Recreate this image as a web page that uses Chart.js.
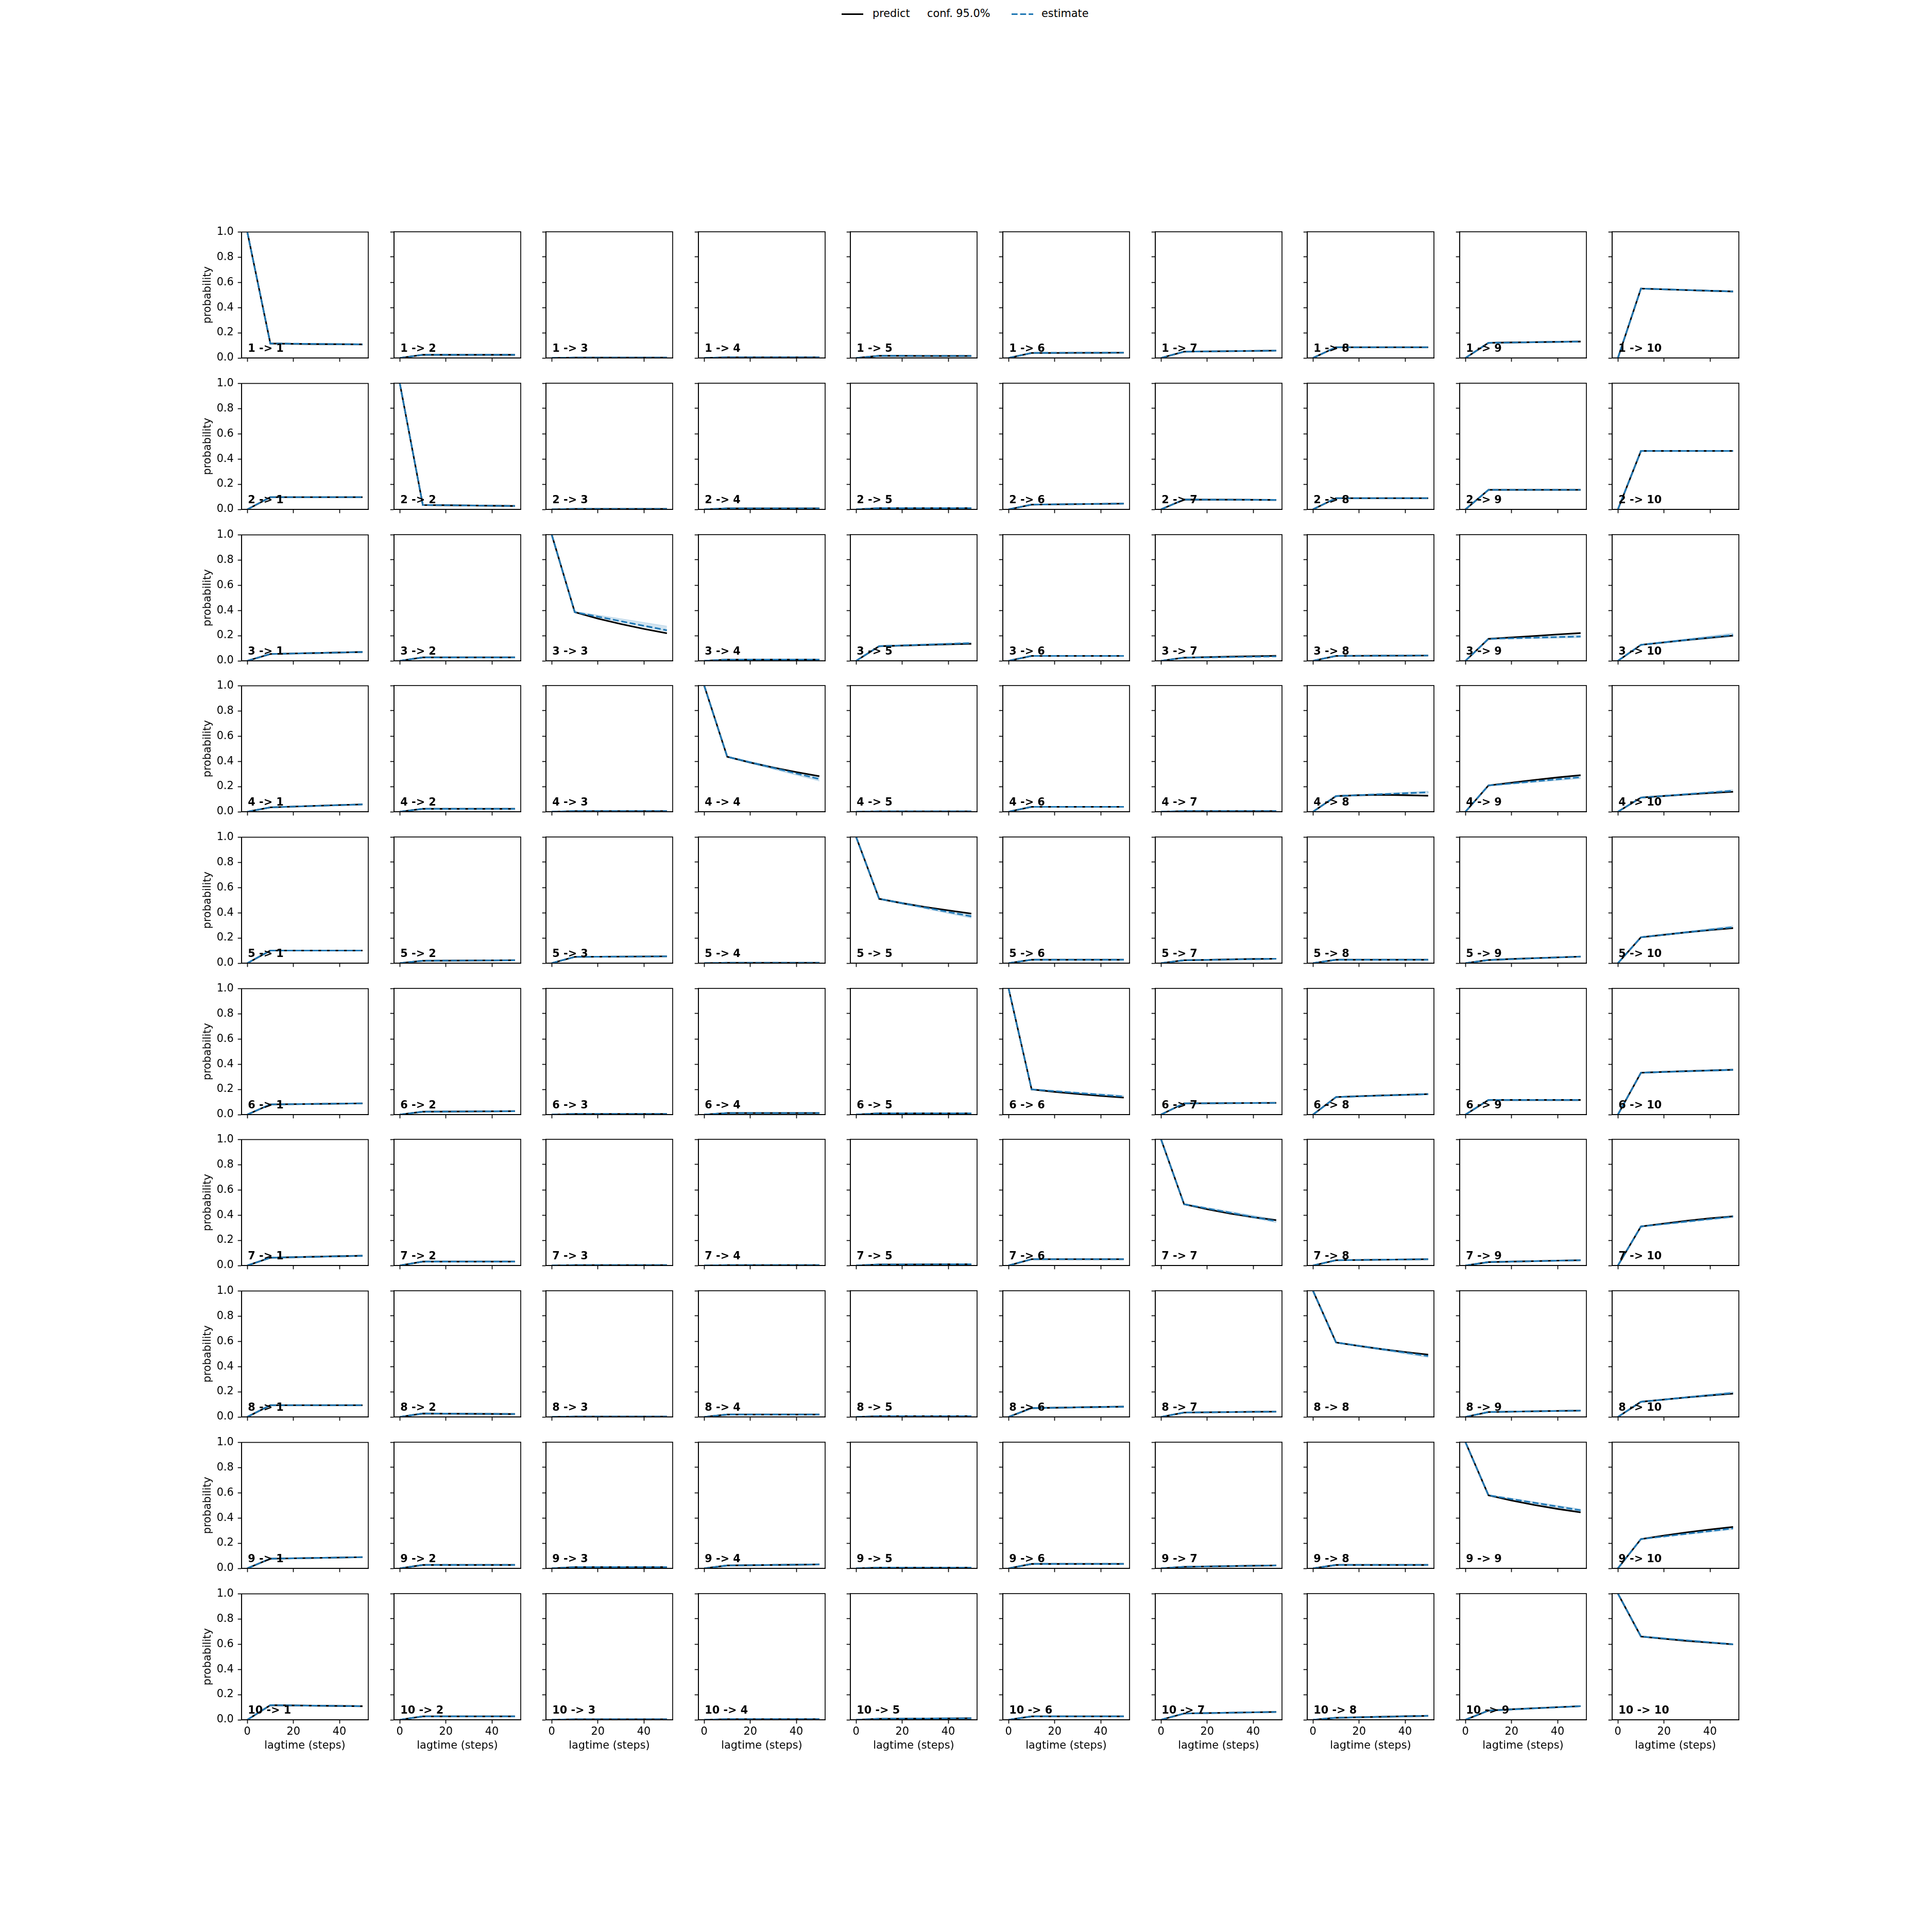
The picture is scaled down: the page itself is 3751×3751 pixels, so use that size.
<!DOCTYPE html>
<html>
<head>
<meta charset="utf-8">
<script src="https://cdn.jsdelivr.net/npm/chart.js@4.4.1/dist/chart.umd.min.js"></script>
<style>
  html, body { margin: 0; padding: 0; background: #fff; }
  #fig { position: relative; width: 3751px; height: 3751px; overflow: hidden; font-family: 'DejaVu Sans'; }
  #fig canvas { position: absolute; }
  .leg-text { position: absolute; font-size: 20.8px; line-height: 1; color: #000; white-space: nowrap; }
</style>
</head>
<body>
<div id="fig">
  <!-- legend -->
  <div style="position:absolute; left:1634px; top:26px; width:42px; height:3px; background:#000"></div>
  <span class="leg-text" style="left:1694px; top:16px">predict</span>
  <span class="leg-text" style="left:1800px; top:16px">conf. 95.0%</span>
  <svg style="position:absolute; left:1964px; top:22px" width="42" height="10">
    <line x1="0" y1="5.5" x2="42" y2="5.5" stroke="#1f77b4" stroke-width="3.1" stroke-dasharray="11.6 5"/>
  </svg>
  <span class="leg-text" style="left:2022px; top:16px">estimate</span>
</div>
<script>
// lag times and ticks
const lagtimes = [0, 10, 20, 30, 40, 50];
const estLagtimes = [0, 10, 50];
const xTicks = [0, 20, 40];
const yTicks = [0, 0.2, 0.4, 0.6, 0.8, 1.0];
const nStates = 10;

// predict[i][j] : i -> j, at lagtimes
const predict = [
  [[1,.115,.112,.110,.109,.108],[0,.025,.025,.025,.025,.025],[0,.003,.003,.003,.003,.003],[0,.005,.005,.005,.005,.005],[0,.017,.017,.016,.016,.016],[0,.040,.040,.041,.041,.042],[0,.050,.052,.054,.056,.058],[0,.085,.085,.085,.085,.085],[0,.120,.123,.125,.128,.130],[0,.550,.544,.538,.532,.527]],
  [[0,.097,.097,.097,.097,.097],[1,.035,.033,.031,.029,.027],[0,.004,.004,.004,.004,.004],[0,.008,.008,.008,.008,.008],[0,.010,.010,.010,.010,.010],[0,.038,.040,.042,.044,.046],[0,.078,.077,.077,.076,.075],[0,.089,.089,.089,.089,.089],[0,.155,.155,.155,.155,.155],[0,.463,.463,.463,.463,.463]],
  [[0,.054,.058,.062,.066,.070],[0,.027,.027,.027,.027,.027],[1,.386,.335,.292,.253,.218],[0,.010,.010,.010,.010,.010],[0,.116,.121,.126,.131,.135],[0,.039,.039,.039,.039,.039],[0,.025,.029,.033,.037,.040],[0,.039,.040,.041,.041,.042],[0,.174,.186,.197,.209,.220],[0,.127,.146,.165,.183,.200]],
  [[0,.035,.041,.047,.053,.058],[0,.023,.023,.023,.023,.023],[0,.005,.005,.005,.005,.005],[1,.436,.390,.350,.314,.282],[0,.003,.003,.003,.003,.003],[0,.039,.039,.039,.039,.039],[0,.005,.005,.005,.005,.005],[0,.124,.131,.134,.131,.127],[0,.208,.230,.252,.272,.290],[0,.112,.125,.137,.148,.158]],
  [[0,.100,.100,.100,.100,.100],[0,.019,.020,.021,.022,.023],[0,.050,.051,.052,.053,.054],[0,.003,.003,.003,.003,.003],[1,.510,.475,.445,.418,.393],[0,.027,.027,.027,.027,.027],[0,.023,.026,.030,.033,.035],[0,.027,.027,.027,.027,.027],[0,.025,.033,.040,.046,.052],[0,.205,.225,.245,.262,.278]],
  [[0,.081,.083,.085,.087,.089],[0,.023,.024,.025,.026,.027],[0,.005,.005,.005,.005,.005],[0,.012,.012,.012,.012,.012],[0,.010,.010,.010,.010,.010],[1,.200,.180,.163,.148,.135],[0,.089,.090,.091,.092,.093],[0,.139,.146,.152,.157,.162],[0,.116,.116,.116,.116,.116],[0,.332,.339,.345,.350,.355]],
  [[0,.062,.066,.070,.074,.077],[0,.031,.031,.031,.031,.031],[0,.003,.003,.003,.003,.003],[0,.003,.003,.003,.003,.003],[0,.008,.008,.009,.010,.010],[0,.050,.050,.050,.050,.050],[1,.486,.446,.411,.383,.359],[0,.042,.044,.046,.048,.050],[0,.027,.031,.035,.039,.042],[0,.309,.333,.355,.374,.390]],
  [[0,.093,.093,.093,.093,.093],[0,.027,.026,.025,.024,.023],[0,.003,.003,.003,.003,.003],[0,.019,.019,.019,.019,.019],[0,.006,.006,.006,.006,.006],[0,.070,.073,.076,.079,.081],[0,.035,.037,.039,.041,.042],[1,.590,.562,.537,.514,.494],[0,.039,.042,.045,.048,.050],[0,.120,.138,.155,.171,.185]],
  [[0,.077,.080,.083,.086,.089],[0,.027,.027,.027,.027,.027],[0,.010,.010,.010,.010,.010],[0,.023,.025,.027,.029,.031],[0,.006,.006,.006,.006,.006],[0,.035,.035,.035,.035,.035],[0,.012,.015,.018,.021,.023],[0,.027,.027,.027,.027,.027],[1,.579,.538,.502,.471,.444],[0,.232,.260,.286,.308,.328]],
  [[0,.116,.114,.112,.110,.108],[0,.027,.027,.027,.027,.027],[0,.004,.004,.004,.004,.004],[0,.005,.005,.005,.005,.005],[0,.008,.009,.010,.011,.012],[0,.027,.027,.027,.027,.027],[0,.050,.053,.056,.059,.062],[0,.016,.020,.024,.028,.031],[0,.073,.083,.092,.100,.108],[1,.660,.642,.625,.611,.598]]
];

// estimate[i][j] at estLagtimes
const estimate = [
  [[1,.115,.108],[0,.025,.025],[0,.003,.003],[0,.005,.005],[0,.017,.016],[0,.040,.042],[0,.050,.058],[0,.085,.085],[0,.120,.130],[0,.550,.527]],
  [[0,.097,.097],[1,.035,.027],[0,.004,.004],[0,.008,.008],[0,.010,.010],[0,.038,.046],[0,.078,.075],[0,.089,.089],[0,.155,.155],[0,.463,.463]],
  [[0,.054,.070],[0,.027,.027],[1,.386,.242],[0,.010,.010],[0,.116,.140],[0,.039,.039],[0,.025,.035],[0,.039,.042],[0,.174,.193],[0,.127,.205]],
  [[0,.035,.058],[0,.023,.023],[0,.005,.005],[1,.436,.259],[0,.003,.003],[0,.039,.039],[0,.005,.005],[0,.124,.154],[0,.208,.274],[0,.112,.166]],
  [[0,.100,.100],[0,.019,.023],[0,.050,.054],[0,.003,.003],[1,.510,.371],[0,.027,.027],[0,.023,.035],[0,.027,.027],[0,.025,.052],[0,.205,.285]],
  [[0,.081,.089],[0,.023,.027],[0,.005,.005],[0,.012,.012],[0,.010,.010],[1,.200,.143],[0,.089,.093],[0,.139,.162],[0,.116,.116],[0,.332,.355]],
  [[0,.062,.077],[0,.031,.031],[0,.003,.003],[0,.003,.003],[0,.008,.010],[0,.050,.050],[1,.486,.351],[0,.042,.050],[0,.027,.042],[0,.309,.388]],
  [[0,.093,.093],[0,.027,.023],[0,.003,.003],[0,.019,.019],[0,.006,.006],[0,.070,.081],[0,.035,.042],[1,.590,.483],[0,.039,.050],[0,.120,.190]],
  [[0,.077,.089],[0,.027,.027],[0,.010,.010],[0,.023,.031],[0,.006,.006],[0,.035,.035],[0,.012,.023],[0,.027,.027],[1,.579,.460],[0,.232,.317]],
  [[0,.116,.108],[0,.027,.027],[0,.004,.004],[0,.005,.005],[0,.008,.012],[0,.027,.027],[0,.050,.062],[0,.016,.031],[0,.073,.108],[1,.660,.598]]
];

// 95% confidence band of the estimate, at estLagtimes
const confLower = [
  [[1,.112,.104],[0,.023,.023],[0,.002,.002],[0,.004,.004],[0,.015,.014],[0,.038,.039],[0,.048,.055],[0,.082,.082],[0,.117,.126],[0,.546,.522]],
  [[0,.094,.093],[1,.033,.024],[0,.003,.003],[0,.007,.007],[0,.009,.009],[0,.036,.043],[0,.075,.072],[0,.086,.086],[0,.151,.151],[0,.458,.457]],
  [[0,.052,.066],[0,.025,.025],[1,.382,.232],[0,.009,.009],[0,.113,.132],[0,.037,.037],[0,.023,.032],[0,.037,.039],[0,.170,.183],[0,.124,.192]],
  [[0,.033,.054],[0,.021,.021],[0,.004,.004],[1,.430,.243],[0,.002,.002],[0,.037,.037],[0,.004,.004],[0,.120,.146],[0,.204,.262],[0,.109,.158]],
  [[0,.097,.096],[0,.017,.020],[0,.048,.051],[0,.002,.002],[1,.505,.357],[0,.025,.025],[0,.021,.032],[0,.025,.025],[0,.023,.048],[0,.201,.275]],
  [[0,.078,.085],[0,.021,.024],[0,.004,.004],[0,.011,.011],[0,.009,.009],[1,.196,.135],[0,.086,.089],[0,.135,.156],[0,.112,.111],[0,.327,.348]],
  [[0,.060,.073],[0,.029,.029],[0,.002,.002],[0,.002,.002],[0,.007,.009],[0,.048,.047],[1,.481,.340],[0,.040,.047],[0,.025,.039],[0,.305,.380]],
  [[0,.090,.089],[0,.025,.021],[0,.002,.002],[0,.018,.018],[0,.005,.005],[0,.067,.077],[0,.033,.039],[1,.585,.471],[0,.037,.047],[0,.117,.181]],
  [[0,.074,.085],[0,.025,.025],[0,.009,.009],[0,.021,.028],[0,.005,.005],[0,.033,.033],[0,.011,.021],[0,.025,.025],[1,.574,.450],[0,.228,.308]],
  [[0,.113,.104],[0,.025,.025],[0,.003,.003],[0,.004,.004],[0,.007,.010],[0,.025,.025],[0,.048,.059],[0,.015,.028],[0,.070,.104],[1,.655,.592]]
];
const confUpper = [
  [[1,.118,.112],[0,.027,.027],[0,.004,.004],[0,.006,.006],[0,.019,.018],[0,.042,.045],[0,.052,.061],[0,.088,.088],[0,.123,.134],[0,.554,.532]],
  [[0,.100,.101],[1,.037,.030],[0,.005,.005],[0,.009,.009],[0,.011,.011],[0,.040,.049],[0,.081,.078],[0,.092,.092],[0,.159,.159],[0,.468,.469]],
  [[0,.056,.074],[0,.029,.029],[1,.392,.275],[0,.011,.011],[0,.119,.148],[0,.041,.041],[0,.027,.038],[0,.041,.045],[0,.178,.204],[0,.130,.220]],
  [[0,.037,.062],[0,.025,.025],[0,.006,.006],[1,.442,.272],[0,.004,.004],[0,.041,.041],[0,.006,.006],[0,.128,.163],[0,.212,.290],[0,.115,.175]],
  [[0,.103,.104],[0,.021,.026],[0,.052,.057],[0,.004,.004],[1,.515,.385],[0,.029,.029],[0,.025,.038],[0,.029,.029],[0,.027,.056],[0,.209,.296]],
  [[0,.084,.093],[0,.025,.030],[0,.006,.006],[0,.013,.013],[0,.011,.011],[1,.204,.152],[0,.092,.097],[0,.143,.168],[0,.120,.121],[0,.337,.362]],
  [[0,.064,.081],[0,.033,.033],[0,.004,.004],[0,.004,.004],[0,.009,.011],[0,.052,.053],[1,.491,.366],[0,.044,.053],[0,.029,.045],[0,.313,.396]],
  [[0,.096,.097],[0,.029,.025],[0,.004,.004],[0,.020,.020],[0,.007,.007],[0,.073,.085],[0,.037,.045],[1,.595,.494],[0,.041,.053],[0,.123,.200]],
  [[0,.080,.093],[0,.029,.029],[0,.011,.011],[0,.025,.034],[0,.007,.007],[0,.037,.037],[0,.013,.025],[0,.029,.029],[1,.584,.470],[0,.236,.325]],
  [[0,.119,.112],[0,.029,.029],[0,.005,.005],[0,.006,.006],[0,.009,.014],[0,.029,.029],[0,.052,.065],[0,.017,.034],[0,.076,.112],[1,.665,.604]]
];

// --- layout (matplotlib-like subplot grid) ---
const FIG = 3751;
const gridLeft = 0.125 * FIG, gridRight = 0.9 * FIG;
const gridTop = 0.12 * FIG, gridBottom = 0.89 * FIG;
const SPACE = 0.2;
const axW = (gridRight - gridLeft) / (nStates + (nStates - 1) * SPACE);
const axH = (gridBottom - gridTop) / (nStates + (nStates - 1) * SPACE);
const PADL = 110, PADR = 20, PADT = 20, PADB = 75;

const FONT = 20.8;
const LW = 3.1;     // 1.5pt
const SPINE = 1.67; // 0.8pt
const BLUE = '#1f77b4';

Chart.defaults.font.family = 'DejaVu Sans';
Chart.defaults.font.size = FONT;
Chart.defaults.color = '#000';

function pts(xs, ys) {
  return xs.map((x, k) => ({ x: x, y: ys[k] }));
}

const fig = document.getElementById('fig');

for (let i = 0; i < nStates; i++) {
  for (let j = 0; j < nStates; j++) {
    const canvas = document.createElement('canvas');
    canvas.width = PADL + Math.round(axW) + PADR;
    canvas.height = PADT + Math.round(axH) + PADB;
    canvas.style.left = (Math.round(gridLeft + j * axW * (1 + SPACE)) - PADL) + 'px';
    canvas.style.top = (Math.round(gridTop + i * axH * (1 + SPACE)) - PADT) + 'px';
    fig.appendChild(canvas);

    const firstCol = j === 0;
    const lastRow = i === nStates - 1;
    const label = `${i + 1} -> ${j + 1}`;

    const tickGrid = {
      display: true, drawOnChartArea: false, drawTicks: true,
      tickLength: 7.3, tickWidth: SPINE, tickColor: '#000'
    };

    new Chart(canvas, {
      type: 'line',
      data: {
        datasets: [
          { label: 'estimate', data: pts(estLagtimes, estimate[i][j]), borderColor: BLUE,
            borderWidth: LW, borderDash: [11.6, 5], pointRadius: 0, fill: false, tension: 0 },
          { label: 'predict', data: pts(lagtimes, predict[i][j]), borderColor: '#000',
            borderWidth: LW, pointRadius: 0, fill: false, tension: 0 },
          { label: 'conf upper', data: pts(estLagtimes, confUpper[i][j]),
            borderColor: 'rgba(31,119,180,0.25)', borderWidth: 1,
            backgroundColor: 'rgba(31,119,180,0.2)', pointRadius: 0, fill: '+1' },
          { label: 'conf lower', data: pts(estLagtimes, confLower[i][j]),
            borderColor: 'rgba(31,119,180,0.25)', borderWidth: 1, pointRadius: 0, fill: false }
        ]
      },
      options: {
        responsive: false,
        animation: false,
        devicePixelRatio: 1,
        events: [],
        layout: { padding: { top: PADT, right: PADR, left: 0, bottom: 0 } },
        plugins: { legend: { display: false }, tooltip: { enabled: false } },
        scales: {
          x: {
            type: 'linear', min: -2.5, max: 52.5,
            afterBuildTicks: s => { s.ticks = xTicks.map(v => ({ value: v })); },
            afterFit: s => { s.height = PADB; },
            ticks: { display: lastRow, padding: 4, maxRotation: 0, autoSkip: false,
                     callback: v => String(v) },
            grid: tickGrid,
            border: { display: true, color: '#000', width: SPINE },
            title: { display: lastRow, text: 'lagtime (steps)', color: '#000',
                     padding: { top: 0, bottom: 11.5 } }
          },
          y: {
            min: 0, max: 1,
            afterBuildTicks: s => { s.ticks = yTicks.map(v => ({ value: v })); },
            afterFit: s => { s.width = PADL; },
            ticks: { display: firstCol, padding: 8, callback: v => v.toFixed(1) },
            grid: tickGrid,
            border: { display: true, color: '#000', width: SPINE },
            title: { display: firstCol, text: 'probability', color: '#000',
                     padding: { top: 32.5, bottom: 0 } }
          }
        }
      },
      plugins: [{
        id: 'frameAndLabel',
        afterDatasetsDraw(chart) {
          const { ctx, chartArea: a } = chart;
          const w = a.right - a.left, h = a.bottom - a.top;
          ctx.save();
          ctx.strokeStyle = '#000';
          ctx.lineWidth = SPINE;
          ctx.strokeRect(a.left, a.top, w, h);
          ctx.font = `bold ${FONT}px "DejaVu Sans"`;
          ctx.fillStyle = '#000';
          ctx.textAlign = 'left';
          ctx.textBaseline = 'alphabetic';
          ctx.fillText(label, a.left + 0.05 * w, a.bottom - 0.05 * h);
          ctx.restore();
        }
      }]
    });
  }
}
</script>
</body>
</html>
